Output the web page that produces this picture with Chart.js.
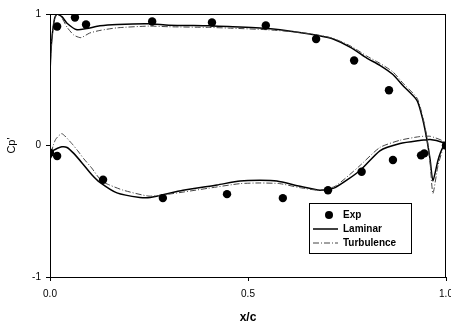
<!DOCTYPE html>
<html><head><meta charset="utf-8">
<script src="https://cdn.jsdelivr.net/npm/chart.js@4"></script>
<style>html,body{margin:0;padding:0;overflow:hidden;background:#fff}#wrap{width:460px;height:322px}</style>
</head><body><div id="wrap"><canvas id="c" width="460" height="322"></canvas></div>
<script>
// Experimental data (x/c, Cp')
const expX  = [0.018,0.063,0.091,0.258,0.409,0.545,0.672,0.768,0.856, 0.0,0.018,0.134,0.285,0.447,0.588,0.702,0.787,0.866,0.937,0.945,1.0];
const expCp = [0.905,0.973,0.92,0.943,0.935,0.913,0.81,0.646,0.42, -0.055,-0.08,-0.26,-0.40,-0.37,-0.40,-0.34,-0.20,-0.11,-0.075,-0.06,0.0];

// Laminar: closed curve TE -> upper surface -> LE -> lower surface -> TE
const lamX  = [1.0,0.992,0.98,0.967,0.96,0.952,0.942,0.927,0.891,0.866,0.833,0.80,0.76,0.715,0.68,0.63,0.55,0.45,0.40,0.30,0.25,0.17,0.126,0.093,0.068,0.043,0.03,0.018,0.012,0.006,0.002,0.0,0.0,0.0,0.004,0.008,0.013,0.03,0.043,0.06,0.083,0.105,0.126,0.169,0.227,0.253,0.336,0.422,0.48,0.53,0.573,0.631,0.682,0.72,0.783,0.833,0.884,0.934,0.96,0.992,1.0];
const lamCp = [0.0,-0.015,-0.11,-0.27,-0.11,0.04,0.19,0.342,0.456,0.54,0.61,0.665,0.745,0.81,0.835,0.86,0.89,0.905,0.91,0.915,0.925,0.92,0.91,0.89,0.88,0.93,0.98,1.0,0.97,0.85,0.7,0.5,0.0,-0.1,-0.08,-0.04,-0.03,-0.01,-0.015,-0.06,-0.14,-0.22,-0.28,-0.36,-0.395,-0.395,-0.34,-0.30,-0.27,-0.265,-0.27,-0.31,-0.34,-0.32,-0.19,-0.04,0.015,0.038,0.046,0.023,0.0];

// Turbulence: closed curve TE -> upper surface -> LE -> lower surface -> TE
const turbX  = [1.0,0.992,0.98,0.967,0.96,0.952,0.942,0.927,0.891,0.866,0.833,0.80,0.76,0.715,0.68,0.63,0.55,0.45,0.40,0.30,0.25,0.17,0.126,0.10,0.078,0.06,0.043,0.03,0.018,0.012,0.006,0.002,0.0,0.0,0.0,0.008,0.015,0.03,0.055,0.07,0.085,0.105,0.13,0.15,0.185,0.25,0.30,0.40,0.48,0.53,0.58,0.63,0.68,0.72,0.78,0.833,0.884,0.934,0.96,0.992,1.0];
const turbCp = [0.0,-0.03,-0.15,-0.365,-0.14,0.06,0.21,0.36,0.475,0.56,0.625,0.68,0.755,0.815,0.838,0.86,0.88,0.893,0.898,0.903,0.908,0.895,0.875,0.855,0.82,0.84,0.9,0.97,1.0,0.97,0.85,0.7,0.5,0.0,-0.1,0.0,0.05,0.09,0.015,-0.04,-0.1,-0.17,-0.27,-0.30,-0.34,-0.385,-0.37,-0.325,-0.29,-0.285,-0.29,-0.32,-0.34,-0.31,-0.16,-0.015,0.04,0.068,0.07,0.035,0.0];

const xTicks = [0, 0.5, 1];
const yTicks = [-1, 0, 1];
const legendLabels = ['Exp', 'Laminar', 'Turbulence'];

const pts = (xs, ys) => xs.map((x, i) => ({x: x, y: ys[i]}));
const FONT = '"Liberation Sans", Arial, sans-serif';

const framePlugin = {
  id: 'frame',
  afterDraw(chart) {
    const ctx = chart.ctx, a = chart.chartArea;
    ctx.save();
    ctx.strokeStyle = '#000';
    ctx.lineWidth = 1;
    ctx.strokeRect(a.left + 0.5, a.top + 0.5, a.right - a.left - 1, a.bottom - a.top);
    // legend box
    const bx = a.right - 137, by = a.bottom - 74, bw = 102, bh = 50;
    ctx.fillStyle = '#fff';
    ctx.fillRect(bx, by, bw, bh);
    ctx.strokeRect(bx + 0.5, by + 0.5, bw, bh);
    ctx.fillStyle = '#000';
    ctx.font = 'bold 10px ' + FONT;
    ctx.textBaseline = 'middle';
    ctx.textAlign = 'left';
    const tx = bx + 34;
    // Exp
    ctx.beginPath(); ctx.arc(bx + 20, by + 12, 4, 0, Math.PI * 2); ctx.fill();
    ctx.fillText(legendLabels[0], tx, by + 12);
    // Laminar
    ctx.beginPath(); ctx.moveTo(bx + 4, by + 26); ctx.lineTo(bx + 29, by + 26);
    ctx.lineWidth = 1.5; ctx.setLineDash([]); ctx.stroke();
    ctx.fillText(legendLabels[1], tx, by + 26);
    // Turbulence
    ctx.beginPath(); ctx.moveTo(bx + 4, by + 40); ctx.lineTo(bx + 29, by + 40);
    ctx.lineWidth = 1; ctx.strokeStyle = '#444'; ctx.setLineDash([6, 2, 1, 2]); ctx.stroke();
    ctx.setLineDash([]);
    ctx.fillText(legendLabels[2], tx, by + 40);
    ctx.restore();
  }
};

new Chart(document.getElementById('c'), {
  type: 'scatter',
  data: {
    datasets: [
      { label: legendLabels[0], data: pts(expX, expCp), showLine: false,
        pointRadius: 4.2, pointBackgroundColor: '#000', pointBorderColor: '#000', pointBorderWidth: 0, order: 0 },
      { label: legendLabels[1], data: pts(lamX, lamCp), showLine: true, pointRadius: 0,
        borderColor: '#000', borderWidth: 1.5, tension: 0.2, order: 2 },
      { label: legendLabels[2], data: pts(turbX, turbCp), showLine: true, pointRadius: 0,
        borderColor: '#444', borderWidth: 1, borderDash: [6, 2, 1, 2], tension: 0.2, order: 1 }
    ]
  },
  options: {
    responsive: false,
    animation: false,
    events: [],
    layout: { padding: { top: 14, right: 14, left: 0, bottom: 0 } },
    plugins: { legend: { display: false }, tooltip: { enabled: false } },
    scales: {
      x: {
        type: 'linear', min: 0, max: 1,
        afterBuildTicks: s => { s.ticks = xTicks.map(v => ({value: v})); },
        afterFit: s => { s.height = 45; },
        ticks: { callback: v => Number(v).toFixed(1), font: { family: FONT, size: 10 }, color: '#000', padding: 7, maxRotation: 0 },
        grid: { display: true, drawOnChartArea: false, drawTicks: true, tickLength: 4, color: '#000' },
        border: { display: true, color: '#000', width: 1 },
        title: { display: true, text: 'x/c', font: { family: FONT, size: 12, weight: 'bold' }, color: '#000', padding: { top: 6, bottom: -3 } }
      },
      y: {
        type: 'linear', min: -1, max: 1,
        afterBuildTicks: s => { s.ticks = yTicks.map(v => ({value: v})); },
        afterFit: s => { s.width = 50; },
        ticks: { callback: v => String(v), font: { family: FONT, size: 10 }, color: '#000', padding: 5 },
        grid: { display: true, drawOnChartArea: false, drawTicks: true, tickLength: 4, color: '#000' },
        border: { display: true, color: '#000', width: 1 },
        title: { display: true, text: "Cp'", font: { family: FONT, size: 11 }, color: '#000', padding: { top: 5, bottom: 0 } }
      }
    }
  },
  plugins: [framePlugin]
});
</script></body></html>
